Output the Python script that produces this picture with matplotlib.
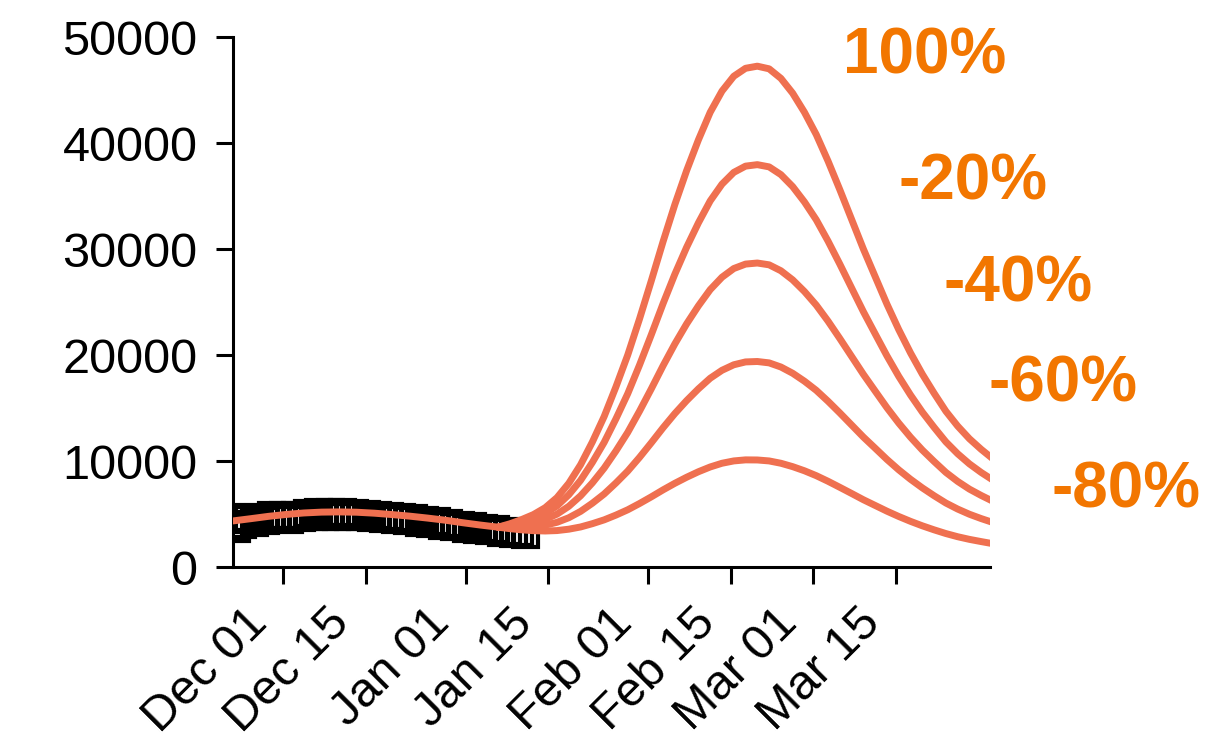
import numpy as np
import pandas as pd
import matplotlib
matplotlib.use("Agg")
import matplotlib.pyplot as plt
import matplotlib.dates as mdates
from matplotlib.transforms import ScaledTranslation

plt.rcParams['font.family'] = ['Liberation Sans', 'DejaVu Sans']

# ---------------- data ----------------
obs_start = "2020-11-22"
obs_values = [4700, 3650, 4050, 4550, 4250, 4750, 4400,
              4950, 4600, 4900, 4550, 4950, 4700, 5100,
              4800, 5150, 4800, 5150, 4850, 5150, 4800,
              5100, 4800, 5050, 4700, 4950, 4650, 4850,
              4550, 4750, 4400, 4600, 4250, 4450, 4150,
              4300, 4000, 4150, 3850, 4000, 3700, 3850,
              3600, 3700, 3450, 3550, 3300, 3400, 3200,
              3300, 3100]

fit_start = "2020-11-22 12:00"
fit_shared = [4350, 4560, 4780, 4960, 5100, 5180, 5200, 5170, 5080, 4950,
              4800, 4620, 4420, 4180, 3960, 3760]

scen_start = "2021-01-06 12:00"
scen_labels = ["100%", "-20%", "-40%", "-60%", "-80%"]
scen_100 = [3760, 4080, 4480, 4950, 5600, 6550, 7900, 9650, 11800, 14200,
            17000, 20000, 23400, 27000, 30700, 34200, 37400, 40300, 42900, 44900,
            46300, 47050, 47250, 47000, 46100, 44700, 42900, 40800, 38300, 35600,
            32800, 30000, 27400, 24800, 22400, 20200, 18200, 16400, 14700, 13300,
            12100, 11100, 10200]
scen_m20 = [3760, 3970, 4240, 4570, 5050, 5770, 6820, 8180, 9870, 11760,
            13980, 16350, 19050, 21910, 24850, 27630, 30170, 32470, 34540, 36120,
            37230, 37820, 37960, 37750, 37020, 35890, 34440, 32760, 30750, 28580,
            26330, 24090, 22000, 19920, 17990, 16230, 14620, 13180, 11810, 10690,
            9730, 8920, 8200]
scen_m40 = [3760, 3850, 4000, 4190, 4500, 4990, 5730, 6720, 7940, 9330,
            10950, 12700, 14700, 16810, 18990, 21050, 22940, 24640, 26170, 27340,
            28160, 28580, 28680, 28510, 27950, 27090, 25990, 24710, 23200, 21560,
            19870, 18180, 16600, 15030, 13580, 12250, 11040, 9960, 8930, 8080,
            7350, 6750, 6200]
scen_m60 = [3760, 3740, 3760, 3810, 3950, 4220, 4650, 5250, 6020, 6890,
            7930, 9050, 10340, 11720, 13140, 14480, 15700, 16810, 17810, 18560,
            19080, 19350, 19390, 19260, 18870, 18280, 17530, 16670, 15640, 14540,
            13400, 12260, 11210, 10150, 9170, 8280, 7470, 6730, 6040, 5470,
            4980, 4570, 4200]
scen_m80 = [3760, 3620, 3510, 3430, 3400, 3440, 3570, 3780, 4090, 4450,
            4900, 5400, 5990, 6620, 7280, 7900, 8470, 8990, 9440, 9790,
            10010, 10110, 10100, 10010, 9790, 9470, 9080, 8620, 8090, 7520,
            6940, 6350, 5810, 5270, 4770, 4310, 3890, 3510, 3160, 2860,
            2610, 2400, 2200]
scenarios = [scen_100, scen_m20, scen_m40, scen_m60, scen_m80]

tick_dates = ["2020-12-01", "2020-12-15", "2021-01-01", "2021-01-15",
              "2021-02-01", "2021-02-15", "2021-03-01", "2021-03-15"]
y_ticks = [0, 10000, 20000, 30000, 40000, 50000]

# ---------------- style ----------------
line_color = "#EF7050"
text_color = "#F27600"

fig = plt.figure(figsize=(12.09, 7.42), dpi=100)
ax = fig.add_axes([0.1927, 0.2358, 0.6262, 0.7143])

obs_dates = pd.date_range(obs_start, periods=len(obs_values), freq="D")
ax.plot(obs_dates, obs_values, linestyle="none", marker="s", markersize=18,
        markerfacecolor="none", markeredgecolor="black", markeredgewidth=3.0,
        zorder=2)

fit_dates = pd.date_range(fit_start, periods=len(fit_shared), freq="3D")
ax.plot(fit_dates, fit_shared, color=line_color, lw=5, zorder=3,
        solid_capstyle="round", solid_joinstyle="round")
scen_dates = pd.date_range(scen_start, periods=len(scen_100), freq="2D")
for vals in scenarios:
    ax.plot(scen_dates, vals, color=line_color, lw=5, zorder=3,
            solid_capstyle="round", solid_joinstyle="round")

label_pos = [(0.913, 0.964), (0.978, 0.725), (1.037, 0.534),
             (1.096, 0.345), (1.180, 0.145)]
for lab, (px, py) in zip(scen_labels, label_pos):
    ax.text(px, py, lab, transform=ax.transAxes, ha="center", va="center",
            fontsize=46, fontweight="bold", color=text_color, clip_on=False)

ax.set_xlim(pd.Timestamp("2020-11-22 12:00"), pd.Timestamp("2021-03-31"))
ax.set_ylim(0, 50000)
ax.set_yticks(y_ticks)
ax.set_yticklabels([str(v) for v in y_ticks])
ax.set_xticks(pd.to_datetime(tick_dates))
ax.xaxis.set_major_formatter(mdates.DateFormatter("%b %d"))

for s in ["top", "right"]:
    ax.spines[s].set_visible(False)
for s in ["left", "bottom"]:
    ax.spines[s].set_linewidth(2.2)
ax.tick_params(axis="both", length=12, width=2.2, labelsize=35,
               colors="black")
ax.tick_params(axis="y", pad=13.5)
ax.tick_params(axis="x", pad=12)

shift = ScaledTranslation(-0.07, 0, fig.dpi_scale_trans)
for lab in ax.get_xticklabels():
    lab.set_rotation(45)
    lab.set_ha("right")
    lab.set_rotation_mode("default")
    lab.set_transform(lab.get_transform() + shift)

fig.savefig("out.png", dpi=100)
